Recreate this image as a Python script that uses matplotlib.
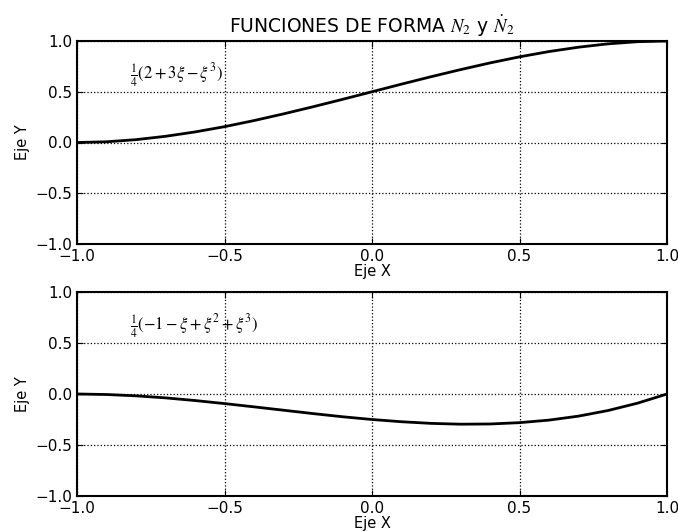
import matplotlib
matplotlib.use('Agg')
import matplotlib.pyplot as plt

# nodal coordinate and shape-function values (step 0.1)
xi = [-1.0, -0.9, -0.8, -0.7, -0.6, -0.5, -0.4, -0.3, -0.2, -0.1, 0.0,
      0.1, 0.2, 0.3, 0.4, 0.5, 0.6, 0.7, 0.8, 0.9, 1.0]
n2 = [0.0, 0.007, 0.028, 0.061, 0.104, 0.156, 0.216, 0.282, 0.352, 0.425, 0.5,
      0.575, 0.648, 0.718, 0.784, 0.844, 0.896, 0.939, 0.972, 0.993, 1.0]
n2_dot = [0.0, -0.005, -0.018, -0.038, -0.064, -0.094, -0.126, -0.159, -0.192, -0.223, -0.25,
          -0.272, -0.288, -0.296, -0.294, -0.281, -0.256, -0.217, -0.162, -0.090, 0.0]

label_top = r'$\frac{1}{4}(2+3\xi-\xi^3)$'
label_bot = r'$\frac{1}{4}(-1-\xi+\xi^2+\xi^3)$'
ticks = [-1.0, -0.5, 0.0, 0.5, 1.0]

plt.rcParams['mathtext.fontset'] = 'stix'
plt.rcParams['font.size'] = 10.5

fig = plt.figure(figsize=(6.78, 5.31), dpi=100)
ax1 = fig.add_axes([77/678, 1-244/531, 590/678, 203/531])
ax2 = fig.add_axes([77/678, 1-496/531, 590/678, 204/531])

for ax, y, lab in [(ax1, n2, label_top), (ax2, n2_dot, label_bot)]:
	ax.plot(xi, y, color='black', linewidth=2)
	ax.set_xlim(-1, 1)
	ax.set_ylim(-1, 1)
	ax.set_xticks(ticks)
	ax.set_yticks(ticks)
	ax.grid(True, color='black', linestyle=':', linewidth=0.9)
	ax.tick_params(direction='in', length=4, top=True, right=True, labelsize=11)
	ax.set_xlabel('Eje X', labelpad=0)
	ax.set_ylabel('Eje Y')
	ax.text(-0.82, 0.66, lab, fontsize=12, va='center')
	for s in ax.spines.values():
		s.set_linewidth(1.5)

ax1.set_title(r'FUNCIONES DE FORMA $N_2$ y $\dot{N}_2$', fontsize=13.5)

plt.savefig('out.png', dpi=100)
